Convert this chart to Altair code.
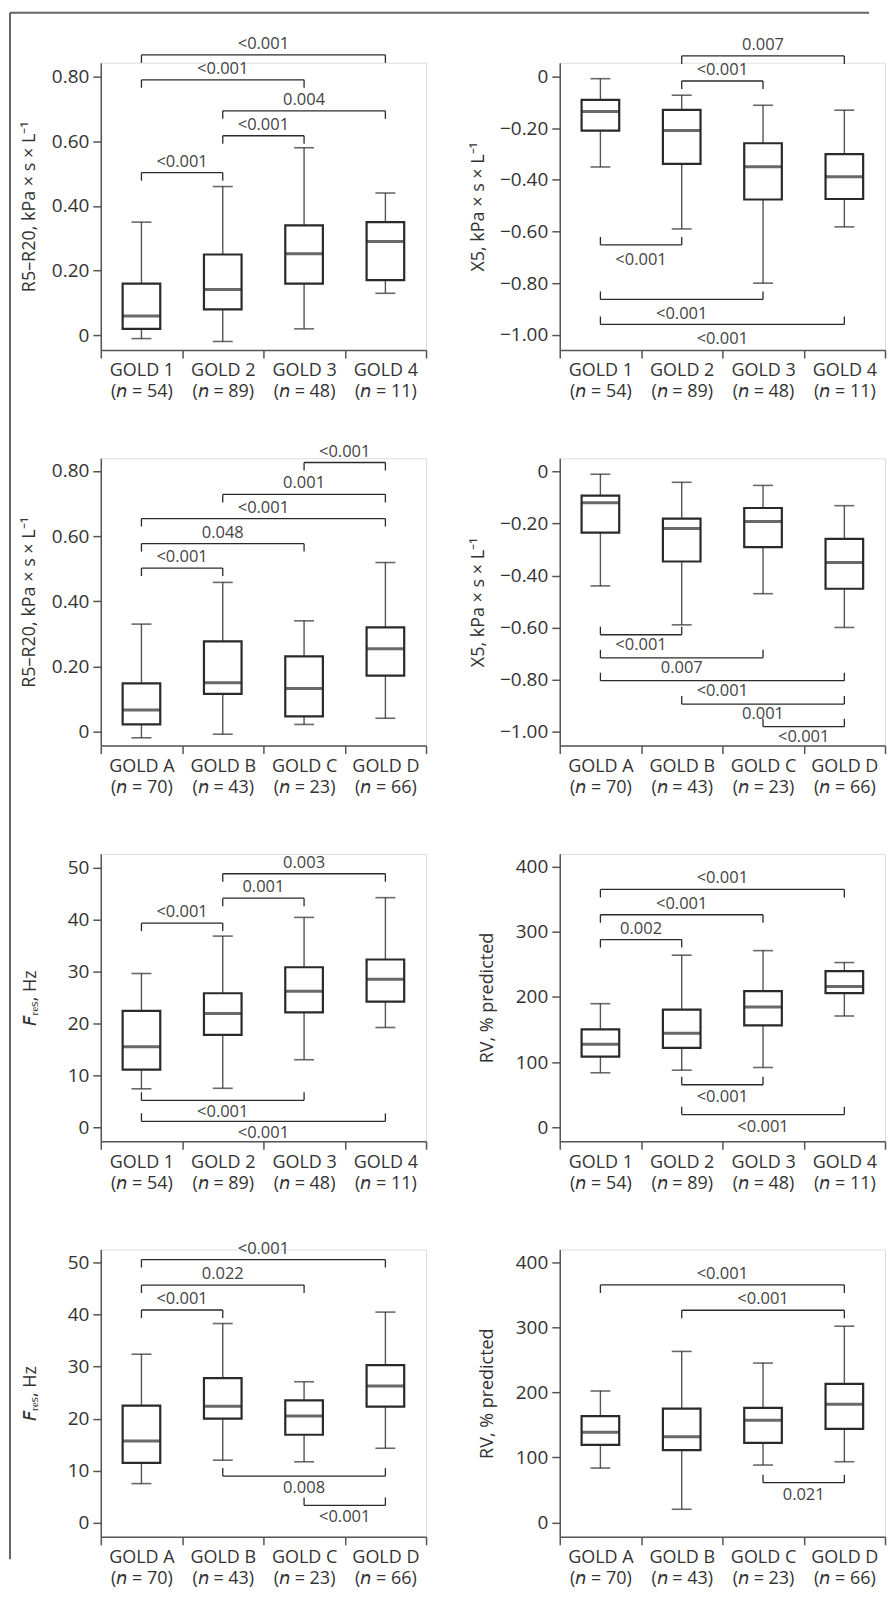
import altair as alt
import pandas as pd

FONT = "Open Sans"

# ---------------- data ----------------
GOLD_NUM = ["GOLD 1", "GOLD 2", "GOLD 3", "GOLD 4"]
N_NUM = [54, 89, 48, 11]
GOLD_ABCD = ["GOLD A", "GOLD B", "GOLD C", "GOLD D"]
N_ABCD = [70, 43, 23, 66]

# Panel 1: R5-R20 by GOLD 1-4
p1_lower = [-0.01, -0.019, 0.02, 0.13]
p1_q1 = [0.02, 0.08, 0.16, 0.171]
p1_median = [0.06, 0.142, 0.252, 0.29]
p1_q3 = [0.16, 0.25, 0.34, 0.35]
p1_upper = [0.35, 0.46, 0.58, 0.44]
p1_brackets = [(1, 4, 0.867, "<0.001", "top"), (1, 3, 0.79, "<0.001", "top"),
               (2, 4, 0.694, "0.004", "top"), (2, 3, 0.617, "<0.001", "top"),
               (1, 2, 0.503, "<0.001", "top")]

# Panel 2: X5 by GOLD 1-4
p2_lower = [-0.35, -0.59, -0.80, -0.582]
p2_q1 = [-0.209, -0.338, -0.476, -0.474]
p2_median = [-0.135, -0.209, -0.349, -0.388]
p2_q3 = [-0.09, -0.129, -0.258, -0.30]
p2_upper = [-0.008, -0.072, -0.111, -0.13]
p2_brackets = [(2, 4, 0.08, "0.007", "top"), (2, 3, -0.017, "<0.001", "top"),
               (1, 2, -0.652, "<0.001", "bottom"), (1, 3, -0.863, "<0.001", "bottom"),
               (1, 4, -0.96, "<0.001", "bottom")]

# Panel 3: R5-R20 by GOLD A-D
p3_lower = [-0.019, -0.008, 0.022, 0.041]
p3_q1 = [0.022, 0.116, 0.047, 0.172]
p3_median = [0.066, 0.150, 0.132, 0.254]
p3_q3 = [0.148, 0.277, 0.231, 0.32]
p3_upper = [0.33, 0.458, 0.34, 0.519]
p3_brackets = [(3, 4, 0.826, "<0.001", "top"), (2, 4, 0.728, "0.001", "top"),
               (1, 4, 0.654, "<0.001", "top"), (1, 3, 0.577, "0.048", "top"),
               (1, 2, 0.502, "<0.001", "top")]

# Panel 4: X5 by GOLD A-D
p4_lower = [-0.44, -0.59, -0.47, -0.60]
p4_q1 = [-0.235, -0.346, -0.291, -0.451]
p4_median = [-0.12, -0.219, -0.192, -0.35]
p4_q3 = [-0.092, -0.181, -0.14, -0.259]
p4_upper = [-0.010, -0.041, -0.053, -0.131]
p4_brackets = [(1, 2, -0.628, "<0.001", "bottom"), (1, 3, -0.717, "0.007", "bottom"),
               (1, 4, -0.805, "<0.001", "bottom"), (2, 4, -0.895, "0.001", "bottom"),
               (3, 4, -0.982, "<0.001", "bottom")]

# Panel 5: FRes by GOLD 1-4
p5_lower = [7.4, 7.5, 13.0, 19.2]
p5_q1 = [11.1, 17.8, 22.1, 24.2]
p5_median = [15.5, 21.9, 26.2, 28.5]
p5_q3 = [22.4, 25.8, 30.8, 32.3]
p5_upper = [29.6, 36.8, 40.4, 44.2]
p5_brackets = [(2, 4, 48.8, "0.003", "top"), (2, 3, 44.1, "0.001", "top"),
               (1, 2, 39.3, "<0.001", "top"), (1, 3, 5.18, "<0.001", "bottom"),
               (1, 4, 1.15, "<0.001", "bottom")]

# Panel 6: RV by GOLD 1-4
p6_lower = [83.6, 87.6, 91.7, 170.7]
p6_q1 = [108.5, 121.8, 156.4, 205.9]
p6_median = [127.4, 144.2, 184.5, 216]
p6_q3 = [150.3, 180.4, 208.9, 239.5]
p6_upper = [189.6, 264, 271, 252.7]
p6_brackets = [(1, 4, 364.8, "<0.001", "top"), (1, 3, 326, "<0.001", "top"),
               (1, 2, 287.9, "0.002", "top"), (2, 3, 65.2, "<0.001", "bottom"),
               (2, 4, 19.4, "<0.001", "bottom")]

# Panel 7: FRes by GOLD A-D
p7_lower = [7.5, 12.0, 11.7, 14.3]
p7_q1 = [11.5, 20.0, 16.9, 22.3]
p7_median = [15.7, 22.4, 20.5, 26.3]
p7_q3 = [22.5, 27.8, 23.5, 30.3]
p7_upper = [32.4, 38.3, 27.1, 40.5]
p7_brackets = [(1, 4, 50.6, "<0.001", "top"), (1, 3, 45.7, "0.022", "top"),
               (1, 2, 40.9, "<0.001", "top"), (2, 4, 8.95, "0.008", "bottom"),
               (3, 4, 3.3, "<0.001", "bottom")]

# Panel 8: RV by GOLD A-D
p8_lower = [83.7, 20.4, 88.3, 93.4]
p8_q1 = [119.4, 111.2, 122.4, 143.9]
p8_median = [138.8, 131.6, 157.1, 181.6]
p8_q3 = [163.3, 175, 176, 212.8]
p8_upper = [202, 262.8, 244.9, 301.5]
p8_brackets = [(1, 4, 364.8, "<0.001", "top"), (2, 4, 326, "<0.001", "top"),
               (3, 4, 61.2, "0.021", "bottom")]

TITLE_R = "R5\u2013R20, kPa \u00d7 s \u00d7 L\u207b\u00b9"
TITLE_X = "X5, kPa \u00d7 s \u00d7 L\u207b\u00b9"
TITLE_F = "\U0001D60D\u1D63\u2091\u209B, Hz"
TITLE_RV = "RV, % predicted"

TICKS_R = [0, 0.2, 0.4, 0.6, 0.8]
TICKS_X = [0, -0.2, -0.4, -0.6, -0.8, -1.0]
TICKS_F = [0, 10, 20, 30, 40, 50]
TICKS_RV = [0, 100, 200, 300, 400]

W, H = 326, 288
INK = "#2a2a2a"
GREY = "#555555"


def panel(groups, ns, lower, q1, med, q3, upper, brackets, domain, ticks,
          decimals, title, title_dist, bottom_dy, frame=False):
    labels = [f"{g}|(\U0001D62F = {n})" for g, n in zip(groups, ns)]
    box = pd.DataFrame({"cat": labels, "lower": lower, "q1": q1,
                        "median": med, "q3": q3, "upper": upper})
    yscale = alt.Scale(domain=domain, nice=False, zero=False)
    yax_kw = dict(values=ticks, title=title, titleX=-title_dist, titleY=H / 2,
                  titleAngle=270, titleAlign="center", titleBaseline="middle",
                  titleFontSize=18, titleFontWeight="normal", titleColor="#333",
                  titleFont=FONT, labelFont=FONT, labelFontSize=19,
                  labelColor="#333", labelPadding=4, tickSize=8,
                  tickColor=GREY, tickWidth=1.5, domainColor=GREY,
                  domainWidth=1.5, grid=False)
    if decimals:
        yax_kw["labelExpr"] = "datum.value == 0 ? '0' : format(datum.value, '.2f')"
    yax = alt.Axis(**yax_kw)
    xax = alt.Axis(title=None, labelAngle=0, labelExpr="split(datum.label, '|')",
                   labelFont=FONT, labelFontSize=18, labelLineHeight=21,
                   labelPadding=4, labelColor="#333", tickSize=8,
                   tickBand="extent", tickColor=GREY, tickWidth=1.5,
                   domainColor=GREY, domainWidth=1.5, grid=False)
    xcat = alt.X("cat:N", sort=labels,
                 scale=alt.Scale(paddingInner=0, paddingOuter=0), axis=xax)

    def Y(f):
        return alt.Y(f"{f}:Q", scale=yscale, axis=yax)

    base = alt.Chart(box)
    wh_hi = base.mark_rule(color=GREY, strokeWidth=1.4).encode(x=xcat, y=Y("q3"), y2="upper:Q")
    wh_lo = base.mark_rule(color=GREY, strokeWidth=1.4).encode(x=xcat, y=Y("lower"), y2="q1:Q")
    cap_hi = base.mark_tick(size=20, thickness=1.6, color=INK).encode(x=xcat, y=Y("upper"))
    cap_lo = base.mark_tick(size=20, thickness=1.6, color=INK).encode(x=xcat, y=Y("lower"))
    boxes = base.mark_bar(size=37.7, fill="white", stroke=INK, strokeWidth=2.2).encode(
        x=xcat, y=Y("q1"), y2="q3:Q")
    meds = base.mark_tick(size=37.7, thickness=3, color=INK).encode(x=xcat, y=Y("median"))
    box_layer = alt.layer(wh_hi, wh_lo, cap_hi, cap_lo, boxes, meds)

    br = pd.DataFrame(brackets, columns=["a", "b", "level", "label", "side"])
    br["mid"] = (br["a"] + br["b"]) / 2
    ends = pd.concat([br.assign(x=br["a"]), br.assign(x=br["b"])], ignore_index=True)
    xs = alt.Scale(domain=[0.5, 4.5], nice=False, zero=False)

    layers = []
    layers.append(alt.Chart(br).mark_rule(color=INK, strokeWidth=1.3).encode(
        x=alt.X("a:Q", scale=xs, axis=None), x2="b:Q", y=Y("level")))
    for side, off, dy in (("top", 8, -6), ("bottom", -8, bottom_dy)):
        e = ends[ends["side"] == side]
        b = br[br["side"] == side]
        if len(b) == 0:
            continue
        layers.append(alt.Chart(e).mark_rule(color=INK, strokeWidth=1.3, y2Offset=off).encode(
            x=alt.X("x:Q", scale=xs, axis=None), y=Y("level"), y2="level:Q"))
        layers.append(alt.Chart(b).mark_text(font=FONT, fontSize=16.5, color="#444",
                                             align="center", baseline="alphabetic", dy=dy).encode(
            x=alt.X("mid:Q", scale=xs, axis=None), y=Y("level"), text="label:N"))
    if frame:
        one = pd.DataFrame({"k": [0]})
        layers.append(alt.Chart(one).mark_rule(color="#666", strokeWidth=2).encode(
            x=alt.value(-91), x2=alt.value(770), y=alt.value(-50)))
        layers.append(alt.Chart(one).mark_rule(color="#666", strokeWidth=2).encode(
            x=alt.value(-91), y=alt.value(-50), y2=alt.value(1500)))
    br_layer = alt.layer(*layers)

    return alt.layer(box_layer, br_layer).resolve_scale(x="independent").properties(
        width=W, height=H)


panels = [
    panel(GOLD_NUM, N_NUM, p1_lower, p1_q1, p1_median, p1_q3, p1_upper, p1_brackets,
          [-0.0454, 0.843], TICKS_R, True, TITLE_R, 71, 17, frame=True),
    panel(GOLD_NUM, N_NUM, p2_lower, p2_q1, p2_median, p2_q3, p2_upper, p2_brackets,
          [-1.059, 0.054], TICKS_X, True, TITLE_X, 81, 20),
    panel(GOLD_ABCD, N_ABCD, p3_lower, p3_q1, p3_median, p3_q3, p3_upper, p3_brackets,
          [-0.043, 0.839], TICKS_R, True, TITLE_R, 71, 17),
    panel(GOLD_ABCD, N_ABCD, p4_lower, p4_q1, p4_median, p4_q3, p4_upper, p4_brackets,
          [-1.055, 0.0515], TICKS_X, True, TITLE_X, 81, 15),
    panel(GOLD_NUM, N_NUM, p5_lower, p5_q1, p5_median, p5_q3, p5_upper, p5_brackets,
          [-2.69, 52.63], TICKS_F, False, TITLE_F, 70, 17),
    panel(GOLD_NUM, N_NUM, p6_lower, p6_q1, p6_median, p6_q3, p6_upper, p6_brackets,
          [-21.4, 419.4], TICKS_RV, False, TITLE_RV, 72, 17),
    panel(GOLD_ABCD, N_ABCD, p7_lower, p7_q1, p7_median, p7_q3, p7_upper, p7_brackets,
          [-2.74, 52.55], TICKS_F, False, TITLE_F, 70, 17),
    panel(GOLD_ABCD, N_ABCD, p8_lower, p8_q1, p8_median, p8_q3, p8_upper, p8_brackets,
          [-21.9, 419.3], TICKS_RV, False, TITLE_RV, 72, 17),
]

chart = alt.concat(*panels, columns=2, spacing={"row": 108.5, "column": 134},
                   bounds="flush",
                   padding={"left": 0, "top": 1, "right": 0, "bottom": 0}
                   ).configure_view(stroke=None).configure(background="white")

chart.save("out.html", embed_options={"renderer": "svg", "actions": False})
